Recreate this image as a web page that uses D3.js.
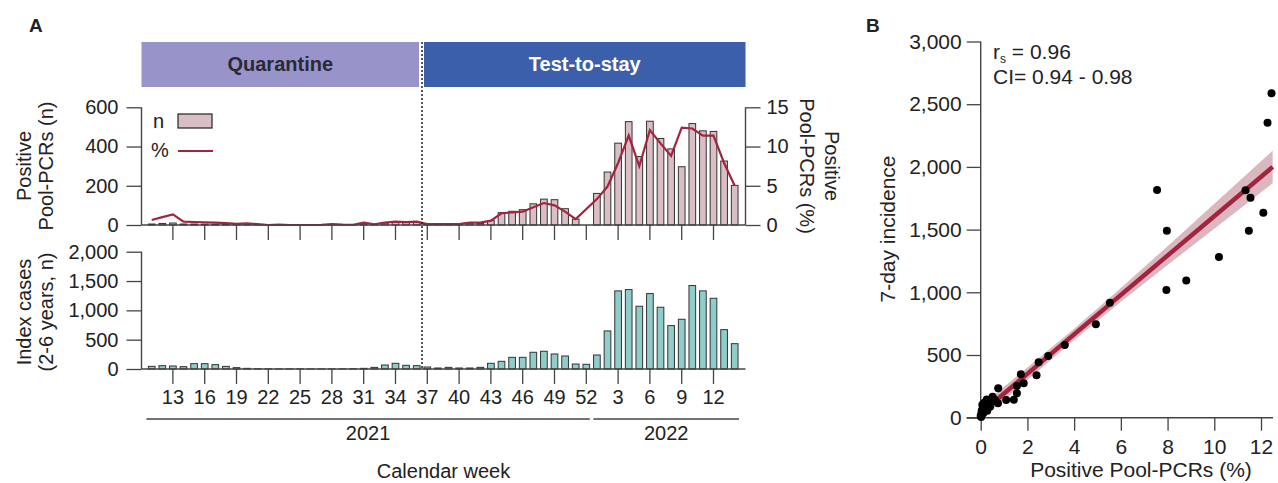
<!DOCTYPE html>
<html>
<head>
<meta charset="utf-8">
<script src="https://cdn.jsdelivr.net/npm/d3@7"></script>
<style>
	body { margin: 0; background: #fff; }
	svg text { font-family: "Liberation Sans", Arial, sans-serif; fill: #222; }
</style>
</head>
<body>
<svg id="chart" width="1278" height="483"></svg>
<script>
/* Data */
var weeks2021 = [11,12,13,14,15,16,17,18,19,20,21,22,23,24,25,26,27,28,29,30,31,32,33,34,35,36,37,38,39,40,41,42,43,44,45,46,47,48,49,50,51,52];
var weeks2022 = [1,2,3,4,5,6,7,8,9,10,11,12,13,14];
var tickWeeks2021 = [13,16,19,22,25,28,31,34,37,40,43,46,49,52];
var tickWeeks2022 = [3,6,9,12];
var lastQuarantineWeek = 36;	// 2021, switch to test-to-stay afterwards

// positive pool-PCRs (n), week 52 without testing
var poolN = [5,8,10,5,5,4,4,3,2,2,1,0,1,0,0,0,1,2,1,1,6,3,10,14,13,15,5,4,5,6,9,8,22,63,70,78,108,132,129,83,30,null,
	161,270,417,527,349,529,441,388,297,517,480,477,326,202];
// positive pool-PCRs (%)
var poolPct = [0.64,1.0,1.36,0.42,0.38,0.34,0.3,0.25,0.15,0.2,0.1,0,0.05,0,0,0,0.02,0.1,0.05,0.03,0.3,0.1,0.3,0.42,0.36,0.42,0.12,0.1,0.1,0.12,0.3,0.3,0.55,1.5,1.6,1.7,2.25,2.8,2.5,1.7,0.76,null,
	3.3,4.9,7.9,11.4,7.5,12.1,10.4,8.8,12.4,12.3,11.4,11.4,7.9,5.0];
// index cases 2-6 years (n)
var indexCases = [45,57,51,40,91,91,74,45,23,11,5,3,2,2,3,2,2,2,3,4,11,28,68,97,63,57,34,17,28,17,17,28,97,131,199,199,285,302,256,222,85,80,
	239,649,1332,1354,1070,1286,1053,740,848,1423,1332,1206,671,432];

// panel B: weekly positive pool-PCRs (%) vs 7-day incidence
var scatterPct = [12.45,12.28,7.55,7.97,11.34,11.55,12.1,11.48,10.2,8.8,7.95,5.53,4.93,3.6,2.89,2.48,2.39,1.72,1.84,1.55,1.55,1.42,1.09,0.75,0.74,0.51,0.26,0.07,0.4,0.19,0.04,0,0.47,0.33,0.61,0.01,0.28,0.11,0.15,0.05,0.02,0.2];
var scatterInc = [2587,2352,1816,1491,1813,1754,1635,1491,1281,1095,1018,917,745,580,492,442,338,346,274,253,194,144,141,234,115,167,146,104,88,74,48,13,128,114,141,21,56,35,120,60,5,90];
// fitted line and its confidence band
var fitX = [0.1, 12.5];
var fitY = [52, 2000];
var bandX = [0.1, 2, 4, 6, 8, 10, 12.5];
var bandLow = [0, 301, 620, 924, 1218, 1507, 1870];
var bandHigh = [110, 401, 710, 1034, 1368, 1707, 2130];

var svg = d3.select("#chart");
var AXIS = "#444";
var RED = "#a3243f";

function styleAxis(g, size) {
	g.select(".domain").remove();
	g.selectAll(".tick line").attr("stroke", AXIS).attr("stroke-width", 1.3);
	g.selectAll(".tick text").attr("font-size", size).attr("fill", "#222");
};
function hLine(x1, x2, y) {
	svg.append("line").attr("x1", x1).attr("x2", x2).attr("y1", y).attr("y2", y)
		.attr("stroke", AXIS).attr("stroke-width", 1.4);
};
function vLine(x, y1, y2) {
	svg.append("line").attr("x1", x).attr("x2", x).attr("y1", y1).attr("y2", y2)
		.attr("stroke", AXIS).attr("stroke-width", 1.4);
};
function rotText(txt, x, y, angle, size) {
	svg.append("text").attr("transform", "translate(" + x + "," + y + ") rotate(" + angle + ")")
		.attr("text-anchor", "middle").attr("font-size", size).text(txt);
};

/* ---------- Panel A ---------- */
function drawPanelA() {
	var rows = [];
	weeks2021.forEach(function(w) { rows.push({year: 2021, week: w}); });
	weeks2022.forEach(function(w) { rows.push({year: 2022, week: w}); });
	rows.forEach(function(r, i) {
		r.key = r.year + "-" + r.week;
		r.n = poolN[i];
		r.pct = poolPct[i];
		r.cases = indexCases[i];
	});
	var keys = rows.map(function(r) { return r.key; });
	var x = d3.scaleBand().domain(keys).range([146.4, 740]).paddingInner(0.37).paddingOuter(0.185);
	var cx = function(k) { return x(k) + x.bandwidth() / 2; };
	var left = 141.5, right = 745.5;

	var yN = d3.scaleLinear().domain([0, 600]).range([225, 107.3]);
	var yP = d3.scaleLinear().domain([0, 15]).range([225, 107.3]);
	var yI = d3.scaleLinear().domain([0, 2000]).range([369, 251.7]);

	var tickKeys = tickWeeks2021.map(function(w) { return "2021-" + w; })
		.concat(tickWeeks2022.map(function(w) { return "2022-" + w; }));

	// switch between quarantine and test-to-stay
	var xSwitch = (cx("2021-" + lastQuarantineWeek) + cx("2021-" + (lastQuarantineWeek + 1))) / 2;

	// header boxes
	svg.append("rect").attr("x", left).attr("y", 42).attr("width", xSwitch - 3 - left).attr("height", 45).attr("fill", "#9893c9");
	svg.append("rect").attr("x", xSwitch + 2).attr("y", 42).attr("width", right - xSwitch - 2).attr("height", 45).attr("fill", "#3c5fab");
	svg.append("text").attr("x", (left + xSwitch - 3) / 2).attr("y", 71).attr("text-anchor", "middle")
		.attr("font-size", 20).attr("font-weight", "bold").style("fill", "#2b2935").text("Quarantine");
	svg.append("text").attr("x", (xSwitch + 2 + right) / 2).attr("y", 71).attr("text-anchor", "middle")
		.attr("font-size", 20).attr("font-weight", "bold").style("fill", "#fff").text("Test-to-stay");

	// top: bars n
	svg.append("g").selectAll("rect").data(rows.filter(function(r) { return r.n > 0; }))
		.enter().append("rect")
		.attr("x", function(d) { return x(d.key); })
		.attr("width", x.bandwidth())
		.attr("y", function(d) { return yN(d.n); })
		.attr("height", function(d) { return yN(0) - yN(d.n); })
		.attr("fill", "#d9bec4").attr("stroke", "#333").attr("stroke-width", 1);

	// top: line %
	var line = d3.line().x(function(d) { return cx(d.key); }).y(function(d) { return yP(d.pct); });
	svg.append("path").datum(rows.filter(function(r) { return r.pct != null; }))
		.attr("d", line).attr("fill", "none").attr("stroke", RED).attr("stroke-width", 2.2);

	// bottom: index cases
	svg.append("g").selectAll("rect").data(rows.filter(function(r) { return r.cases > 0; }))
		.enter().append("rect")
		.attr("x", function(d) { return x(d.key); })
		.attr("width", x.bandwidth())
		.attr("y", function(d) { return yI(d.cases); })
		.attr("height", function(d) { return yI(0) - yI(d.cases); })
		.attr("fill", "#8fcdca").attr("stroke", "#333").attr("stroke-width", 1);

	// axes
	svg.append("g").attr("transform", "translate(" + left + ",0)")
		.call(d3.axisLeft(yN).tickValues([0, 200, 400, 600]).tickSize(15).tickPadding(8))
		.call(styleAxis, 20);
	svg.append("g").attr("transform", "translate(" + right + ",0)")
		.call(d3.axisRight(yP).tickValues([0, 5, 10, 15]).tickSize(15).tickPadding(6))
		.call(styleAxis, 20);
	svg.append("g").attr("transform", "translate(0,225)")
		.call(d3.axisBottom(x).tickValues(tickKeys).tickSize(15).tickFormat(""))
		.call(styleAxis, 20);
	svg.append("g").attr("transform", "translate(" + left + ",0)")
		.call(d3.axisLeft(yI).tickValues([0, 500, 1000, 1500, 2000]).tickSize(15).tickPadding(8).tickFormat(d3.format(",")))
		.call(styleAxis, 20);
	svg.append("g").attr("transform", "translate(0,369)")
		.call(d3.axisBottom(x).tickValues(tickKeys).tickSize(15).tickPadding(6)
			.tickFormat(function(k) { return k.split("-")[1]; }))
		.call(styleAxis, 20);
	vLine(left, yN(600), yN(0));
	vLine(right, yP(15), yP(0));
	hLine(left, right, 225);
	vLine(left, yI(2000), yI(0));
	hLine(left, right, 369);

	// dotted separator
	svg.append("line").attr("x1", xSwitch).attr("x2", xSwitch).attr("y1", 42).attr("y2", 369)
		.attr("stroke", "#222").attr("stroke-width", 1.5).attr("stroke-dasharray", "2,2");

	// year brackets
	var x2021a = x.range()[0], x2021b = cx("2021-52") + 3.5;
	var x2022a = cx("2022-1") - 3.5, x2022b = x.range()[1] - 1;
	hLine(x2021a, x2021b, 419);
	hLine(x2022a, x2022b, 419);
	svg.append("text").attr("x", (x2021a + x2021b) / 2).attr("y", 440).attr("text-anchor", "middle").attr("font-size", 20).text("2021");
	svg.append("text").attr("x", (x2022a + x2022b) / 2).attr("y", 440).attr("text-anchor", "middle").attr("font-size", 20).text("2022");
	svg.append("text").attr("x", (left + right) / 2).attr("y", 478).attr("text-anchor", "middle").attr("font-size", 20).text("Calendar week");

	// axis titles
	rotText("Positive", 31, 166, -90, 20);
	rotText("Pool-PCRs (n)", 53, 166, -90, 20);
	rotText("Index cases", 31, 312, -90, 20);
	rotText("(2-6 years, n)", 53, 312, -90, 20);
	rotText("Pool-PCRs (%)", 800, 166, 90, 20);
	rotText("Positive", 825, 166, 90, 20);

	// legend
	svg.append("text").attr("x", 153).attr("y", 128).attr("font-size", 20).text("n");
	svg.append("rect").attr("x", 178).attr("y", 114).attr("width", 34).attr("height", 14)
		.attr("fill", "#d9bec4").attr("stroke", "#222").attr("stroke-width", 1.2);
	svg.append("text").attr("x", 151).attr("y", 157).attr("font-size", 20).text("%");
	svg.append("line").attr("x1", 178).attr("x2", 213).attr("y1", 151).attr("y2", 151)
		.attr("stroke", RED).attr("stroke-width", 2.2);

	svg.append("text").attr("x", 29).attr("y", 32).attr("font-size", 19).attr("font-weight", "bold").text("A");
};

/* ---------- Panel B ---------- */
function drawPanelB() {
	var x = d3.scaleLinear().domain([0, 12]).range([980.7, 1261]);
	var y = d3.scaleLinear().domain([0, 3000]).range([417.7, 41.5]);

	// confidence band + fitted line
	var band = bandX.map(function(v, i) { return {x: v, lo: bandLow[i], hi: bandHigh[i]}; });
	svg.append("path").datum(band)
		.attr("d", d3.area().x(function(d) { return x(d.x); })
			.y0(function(d) { return y(d.lo); }).y1(function(d) { return y(d.hi); }))
		.attr("fill", "#dcb7bf");
	var fit = fitX.map(function(v, i) { return [v, fitY[i]]; });
	svg.append("path").datum(fit)
		.attr("d", d3.line().x(function(d) { return x(d[0]); }).y(function(d) { return y(d[1]); }))
		.attr("stroke", RED).attr("stroke-width", 4.5).attr("fill", "none");

	// axes
	svg.append("g").attr("transform", "translate(980.7,0)")
		.call(d3.axisLeft(y).tickValues([0, 500, 1000, 1500, 2000, 2500, 3000]).tickSize(14).tickPadding(5).tickFormat(d3.format(",")))
		.call(styleAxis, 21);
	svg.append("g").attr("transform", "translate(0,417.7)")
		.call(d3.axisBottom(x).tickValues([0, 2, 4, 6, 8, 10, 12]).tickSize(13).tickPadding(8))
		.call(styleAxis, 21);
	vLine(980.7, y(3000), y(0));
	hLine(966.7, 1273, 417.7);

	// points
	var pts = scatterPct.map(function(v, i) { return {x: v, y: scatterInc[i]}; });
	svg.append("g").selectAll("circle").data(pts).enter().append("circle")
		.attr("cx", function(d) { return x(d.x); })
		.attr("cy", function(d) { return y(d.y); })
		.attr("r", 4).attr("fill", "#000");

	// stats
	var t = svg.append("text").attr("x", 993).attr("y", 59).attr("font-size", 21);
	t.append("tspan").text("r");
	t.append("tspan").attr("font-size", 12).attr("dy", 4).text("s");
	t.append("tspan").attr("dy", -4).text(" = 0.96");
	svg.append("text").attr("x", 993).attr("y", 84).attr("font-size", 21).text("CI= 0.94 - 0.98");

	rotText("7-day incidence", 895, 229, -90, 21);
	svg.append("text").attr("x", 1141).attr("y", 477).attr("text-anchor", "middle").attr("font-size", 21).text("Positive Pool-PCRs (%)");

	svg.append("text").attr("x", 866).attr("y", 32).attr("font-size", 19).attr("font-weight", "bold").text("B");
};

drawPanelA();
drawPanelB();
</script>
</body>
</html>
